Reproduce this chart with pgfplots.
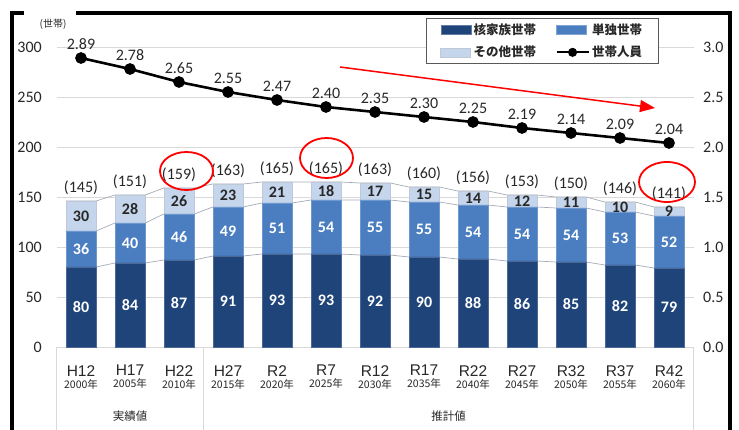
\documentclass[border=0pt]{standalone}
\usepackage{pgfplots}
\pgfplotsset{compat=1.18}
\usepackage{pgfplotstable}
\usepackage{fontspec}
\setmainfont{Carlito}
\newfontfamily\cjk{Noto Sans CJK JP}
\newfontfamily\arial{Liberation Sans}
\usetikzlibrary{arrows.meta}
\definecolor{core}{RGB}{31,68,122}
\definecolor{single}{RGB}{74,126,193}
\definecolor{other}{RGB}{197,214,236}
\definecolor{gridc}{RGB}{217,217,217}
\definecolor{sl}{RGB}{165,170,180}
\definecolor{txt}{RGB}{40,40,40}
\definecolor{edge}{RGB}{190,200,215}

\pgfplotstableread{
x core single other total persons
0 80 36 30 145 2.89
1 84 40 28 151 2.78
2 87 46 26 159 2.65
3 91 49 23 163 2.55
4 93 51 21 165 2.47
5 93 54 18 165 2.40
6 92 55 17 163 2.35
7 90 55 15 160 2.30
8 88 54 14 156 2.25
9 86 54 12 153 2.19
10 85 54 11 150 2.14
11 82 53 10 146 2.09
12 79 52 9 141 2.04
}\datatable

\pgfplotstableread{
x l1 l2 l3
-0.31 80 116 146
0.31 80 116 146
0.69 84 124 152
1.31 84 124 152
1.69 87 133 159
2.31 87 133 159
2.69 91 140 163
3.31 91 140 163
3.69 93 144 165
4.31 93 144 165
4.69 93 147 165
5.31 93 147 165
5.69 92 147 164
6.31 92 147 164
6.69 90 145 160
7.31 90 145 160
7.69 88 142 156
8.31 88 142 156
8.69 86 140 152
9.31 86 140 152
9.69 85 139 150
10.31 85 139 150
10.69 82 135 145
11.31 82 135 145
11.69 79 131 140
12.31 79 131 140
}\seriestable

\newcommand\tl[2]{#1\\{\cjk\fontsize{10.5bp}{12bp}\selectfont #2年}}

\pgfplotsset{base/.style={width=637bp, height=300bp, scale only axis,
  xmin=-0.5, xmax=12.5, at={(56.5bp,83bp)}, anchor=south west, clip=false}}

\begin{document}
\begin{tikzpicture}
\useasboundingbox (0,0) rectangle (739bp,430bp);
\fill[white] (0,0) rectangle (739bp,430bp);

% grid and series lines
\begin{axis}[base, ymin=0, ymax=300, ytick={0,50,...,300}, yticklabels={},
  ymajorgrids, grid style={gridc, line width=0.8bp}, xtick=\empty,
  axis line style={draw=none}, major tick length=0pt]
\addplot[sl, line width=0.7bp] table[x=x,y=l1]\seriestable;
\addplot[sl, line width=0.7bp] table[x=x,y=l2]\seriestable;
\addplot[sl, line width=0.7bp] table[x=x,y=l3]\seriestable;
\draw[gridc, line width=0.8bp] (axis cs:-0.5,0) -- ([yshift=-90bp]axis cs:-0.5,0);
\draw[gridc, line width=0.8bp] (axis cs:2.5,0) -- ([yshift=-90bp]axis cs:2.5,0);
\draw[gridc, line width=0.8bp] (axis cs:12.5,0) -- ([yshift=-90bp]axis cs:12.5,0);
\node[font=\cjk\fontsize{11.5bp}{12bp}\selectfont, text=txt] at ([yshift=-69bp]axis cs:1,0) {実績値};
\node[font=\cjk\fontsize{11.5bp}{12bp}\selectfont, text=txt] at ([yshift=-69bp]axis cs:7.5,0) {推計値};
\end{axis}

% bars
\begin{axis}[base, ybar stacked, bar width=30bp, ymin=0, ymax=300,
  ytick={0,50,...,300}, xtick={0,...,12},
  xticklabels={\tl{H12}{2000},\tl{H17}{2005},\tl{H22}{2010},\tl{H27}{2015},\tl{R2}{2020},\tl{R7}{2025},\tl{R12}{2030},\tl{R17}{2035},\tl{R22}{2040},\tl{R27}{2045},\tl{R32}{2050},\tl{R37}{2055},\tl{R42}{2060}},
  axis line style={draw=none}, major tick length=0pt,
  /pgf/number format/assume math mode=true,
  yticklabel style={font=\fontsize{16bp}{16bp}\selectfont, text=txt, inner sep=0pt, anchor=east, xshift=-14.5bp},
  xticklabel style={align=center, font=\arial\fontsize{15.5bp}{12bp}\selectfont, text=txt, inner sep=0pt, anchor=north, yshift=-18bp}]
\addplot[fill=core, draw=core!80!white, line width=0.5bp] table[x=x,y=core]\datatable;
\addplot[fill=single, draw=single!80!white, line width=0.5bp] table[x=x,y=single]\datatable;
\addplot[fill=other, draw=edge, line width=0.6bp] table[x=x,y=other]\datatable;
\end{axis}

% labels
\begin{axis}[base, ymin=0, ymax=300, hide axis]
\addplot[draw=none, nodes near coords, point meta=explicit symbolic,
  nodes near coords style={anchor=center, text=white, font=\bfseries\fontsize{16bp}{16bp}\selectfont}]
  table[x=x, y expr=\thisrow{core}/2, meta=core]\datatable;
\addplot[draw=none, nodes near coords, point meta=explicit symbolic,
  nodes near coords style={anchor=center, text=white, font=\bfseries\fontsize{16bp}{16bp}\selectfont}]
  table[x=x, y expr=\thisrow{core}+\thisrow{single}/2, meta=single]\datatable;
\addplot[draw=none, nodes near coords, point meta=explicit symbolic,
  nodes near coords style={anchor=center, text=txt, font=\bfseries\fontsize{16bp}{16bp}\selectfont}]
  table[x=x, y expr=\thisrow{core}+\thisrow{single}+\thisrow{other}/2, meta=other]\datatable;
\addplot[draw=none, nodes near coords={(\pgfplotspointmeta)}, point meta=explicit symbolic,
  nodes near coords style={anchor=center, yshift=13.5bp, text=txt, font=\fontsize{16bp}{16bp}\selectfont}]
  table[x=x, y expr=\thisrow{core}+\thisrow{single}+\thisrow{other}, meta=total]\datatable;
\end{axis}

% persons line, right axis, legend
\begin{axis}[base, ymin=0, ymax=3, hide x axis, axis y line*=right,
  y axis line style={draw=none}, major tick length=0pt,
  ytick={0,0.5,1,1.5,2,2.5,3},
  /pgf/number format/assume math mode=true,
  yticklabel style={/pgf/number format/.cd, fixed, fixed zerofill, precision=1, /tikz/.cd,
    font=\fontsize{16bp}{16bp}\selectfont, text=txt, inner sep=0pt, anchor=west, xshift=9.5bp},
  legend columns=2,
  legend style={at={(0.58,1.0967)}, anchor=north west, draw=black!65, line width=1bp,
    font=\cjk\bfseries\fontsize{12.5bp}{13bp}\selectfont, text=txt,
    inner xsep=14bp, inner ysep=3bp, row sep=5bp,
    nodes={inner sep=2.5bp},
    /tikz/every even column/.append style={column sep=17bp}},
  legend cell align=left]
\addlegendimage{legend image code/.code={\filldraw[fill=core, draw=core!70!white, line width=0.5bp] (0bp,-4.5bp) rectangle (30bp,4.5bp);}}
\addlegendentry{核家族世帯}
\addlegendimage{legend image code/.code={\filldraw[fill=single, draw=single!70!white, line width=0.5bp] (0bp,-4.5bp) rectangle (30bp,4.5bp);}}
\addlegendentry{単独世帯}
\addlegendimage{legend image code/.code={\filldraw[fill=other, draw=edge, line width=0.6bp] (0bp,-4.5bp) rectangle (30bp,4.5bp);}}
\addlegendentry{その他世帯}
\addplot[black, line width=2.6bp, mark=*, mark size=4.5bp, mark options={fill=black},
  nodes near coords, point meta=explicit symbolic,
  nodes near coords style={anchor=center, yshift=14bp, text=txt, font=\fontsize{16bp}{16bp}\selectfont},
  legend image code/.code={\draw[mark repeat=2, mark phase=2, line width=2bp, mark size=3.5bp, black, mark=*] plot coordinates {(0bp,0bp) (16bp,0bp) (32bp,0bp)};}]
  table[x=x, y=persons, meta=persons]\datatable;
\addlegendentry{世帯人員}
\end{axis}

% frame
\draw[black, line width=4bp, line join=miter] (12bp,0) -- (12bp,416.5bp) -- (730bp,416.5bp) -- (730bp,0);
\fill[white] (24bp,412bp) rectangle (76bp,421bp);
\node[font=\cjk\fontsize{10bp}{11bp}\selectfont, text=txt] at (53bp,406bp) {(世帯)};

% annotations
\draw[red, line width=1.8bp] (186.5bp,259bp) ellipse [x radius=26.5bp, y radius=19bp];
\draw[red, line width=1.8bp] (326.5bp,272bp) ellipse [x radius=26.5bp, y radius=20bp];
\draw[red, line width=1.8bp] (667bp,248bp) ellipse [x radius=28bp, y radius=20bp];
\draw[red, line width=1.5bp, -{Triangle[length=15bp,width=12bp]}] (340bp,363bp) -- (655bp,322bp);
\end{tikzpicture}
\end{document}
